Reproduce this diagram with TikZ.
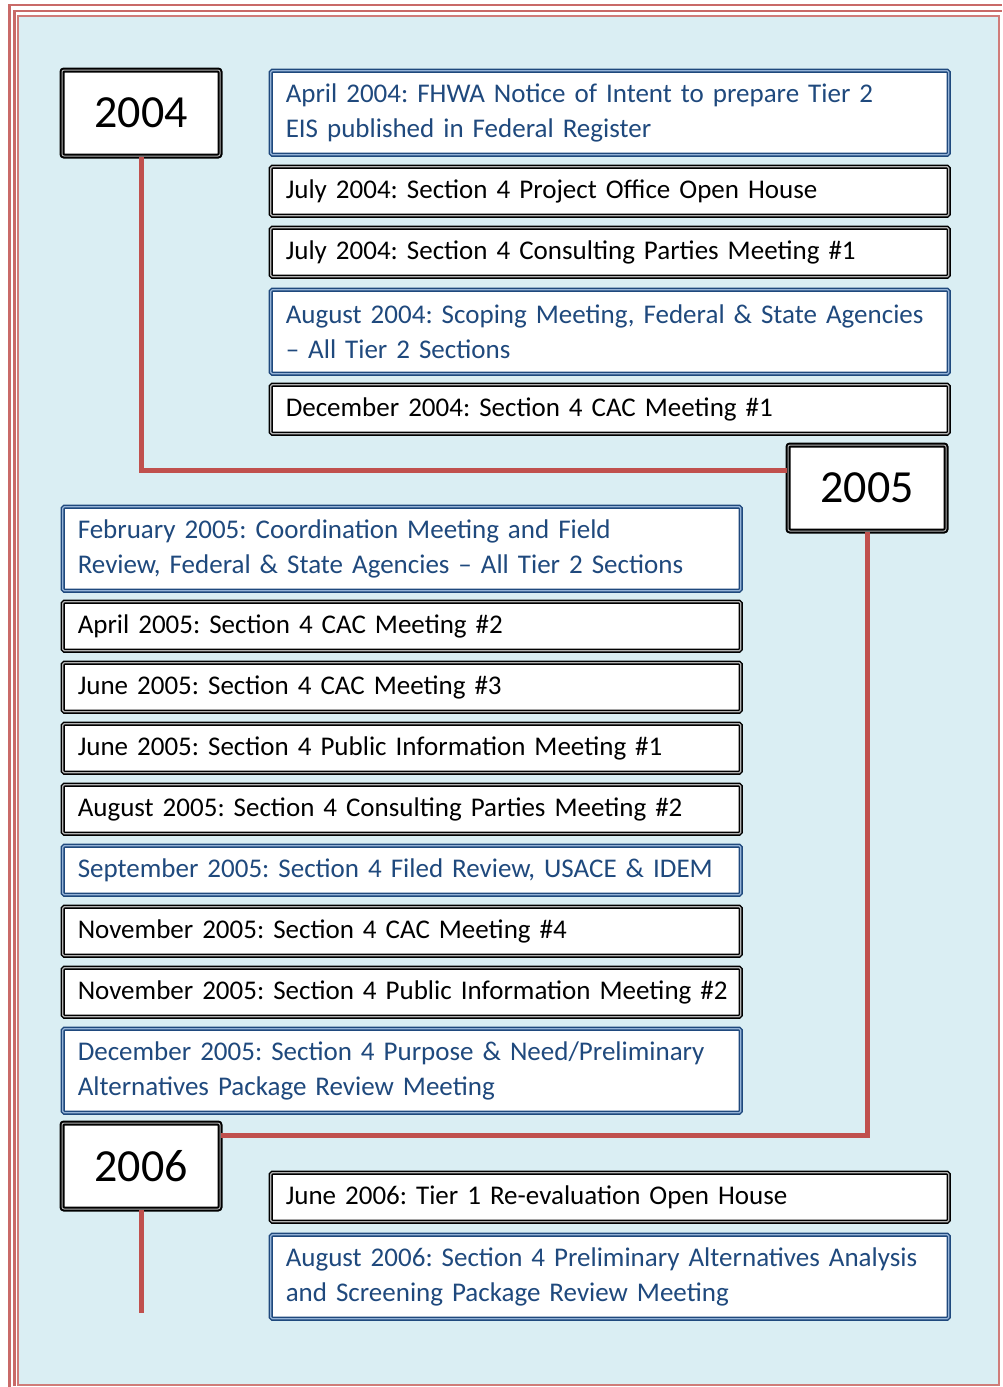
\documentclass[tikz,border=0pt]{standalone}
\usepackage{fontspec}
\setmainfont{Carlito}
\frenchspacing
\definecolor{bgblue}{HTML}{DAEEF3}
\definecolor{linered}{HTML}{C0504D}
\definecolor{textblue}{HTML}{1F497D}
\definecolor{bandblue}{HTML}{95B3D7}
\usetikzlibrary{positioning}

\begin{document}
\begin{tikzpicture}[x=1pt, y=-1pt,
  event/.style={draw=black, double=gray!60, line width=1.5pt, double distance=1.2pt, fill=white, rounded corners=1.5pt, anchor=north west, text width=648pt, inner xsep=15pt, inner ysep=0pt, minimum height=49pt, align=left, font=\fontsize{27}{35}\selectfont},
  blueevent/.style={event, draw=textblue, double=bandblue, text=textblue},
  tall/.style={minimum height=84pt},
  year/.style={draw=black, double=gray!60, line width=2pt, double distance=1pt, fill=white, rounded corners=2pt, minimum width=158pt, minimum height=86pt, font=\fontsize{46}{46}\selectfont},
  timeline/.style={draw=linered, line width=5pt},
]
  \useasboundingbox (0,0) rectangle (1002,1387);

  % Frame
  \fill[bgblue] (18,16) rectangle (999,1385);
  \draw[linered!75, line width=1.5pt] (18,16) rectangle (999,1385);
  \draw[linered!85, line width=2.5pt] (9.5,1387) -- (9.5,5) -- (1002,5);
  \draw[linered!85, line width=2.5pt] (14.5,1386) -- (14.5,11) -- (1002,11);

  % Years
  \node[year] (y2004) at (141,113) {2004};
  \node[year] (y2005) at (867,488) {2005};
  \node[year] (y2006) at (141,1166) {2006};

  % 2004 events
  \node[blueevent, tall] (apr04) at (270,70) {April 2004: FHWA Notice of Intent to prepare Tier 2\\EIS published in Federal Register};
  \node[event] (jul04a) at (270,166) {July 2004: Section 4 Project Office Open House};
  \node[event] (jul04b) at (270,227) {July 2004: Section 4 Consulting Parties Meeting \#1};
  \node[blueevent, tall] (aug04) at (270,289) {August 2004: Scoping Meeting, Federal \& State Agencies\\– All Tier 2 Sections};
  \node[event] (dec04) at (270,384) {December 2004: Section 4 CAC Meeting \#1};

  % 2005 events
  \node[blueevent, tall] (feb05) at (62,506) {February 2005: Coordination Meeting and Field\\Review, Federal \& State Agencies – All Tier 2 Sections};
  \node[event] (apr05) at (62,601) {April 2005: Section 4 CAC Meeting \#2};
  \node[event] (jun05a) at (62,662) {June 2005: Section 4 CAC Meeting \#3};
  \node[event] (jun05b) at (62,723) {June 2005: Section 4 Public Information Meeting \#1};
  \node[event] (aug05) at (62,784) {August 2005: Section 4 Consulting Parties Meeting \#2};
  \node[blueevent] (sep05) at (62,845) {September 2005: Section 4 Filed Review, USACE \& IDEM};
  \node[event] (nov05a) at (62,906) {November 2005: Section 4 CAC Meeting \#4};
  \node[event] (nov05b) at (62,967) {\mbox{November 2005: Section 4 Public Information Meeting \#2}};
  \node[blueevent, tall] (dec05) at (62,1028) {December 2005: Section 4 Purpose \& Need/Preliminary\\Alternatives Package Review Meeting};

  % 2006 events
  \node[event] (jun06) at (270,1172) {June 2006: Tier 1 Re-evaluation Open House};
  \node[blueevent, tall] (aug06) at (270,1234) {August 2006: Section 4 Preliminary Alternatives Analysis\\and Screening Package Review Meeting};

  % Timeline
  \coordinate (tail) at (141,1313);
  \draw[timeline] (y2004.south) |- ([yshift=18pt]y2005.west);
  \draw[timeline] (y2005.south) |- ([yshift=31pt]y2006.east);
  \draw[timeline] (y2006.south) -- (tail);
\end{tikzpicture}
\end{document}
